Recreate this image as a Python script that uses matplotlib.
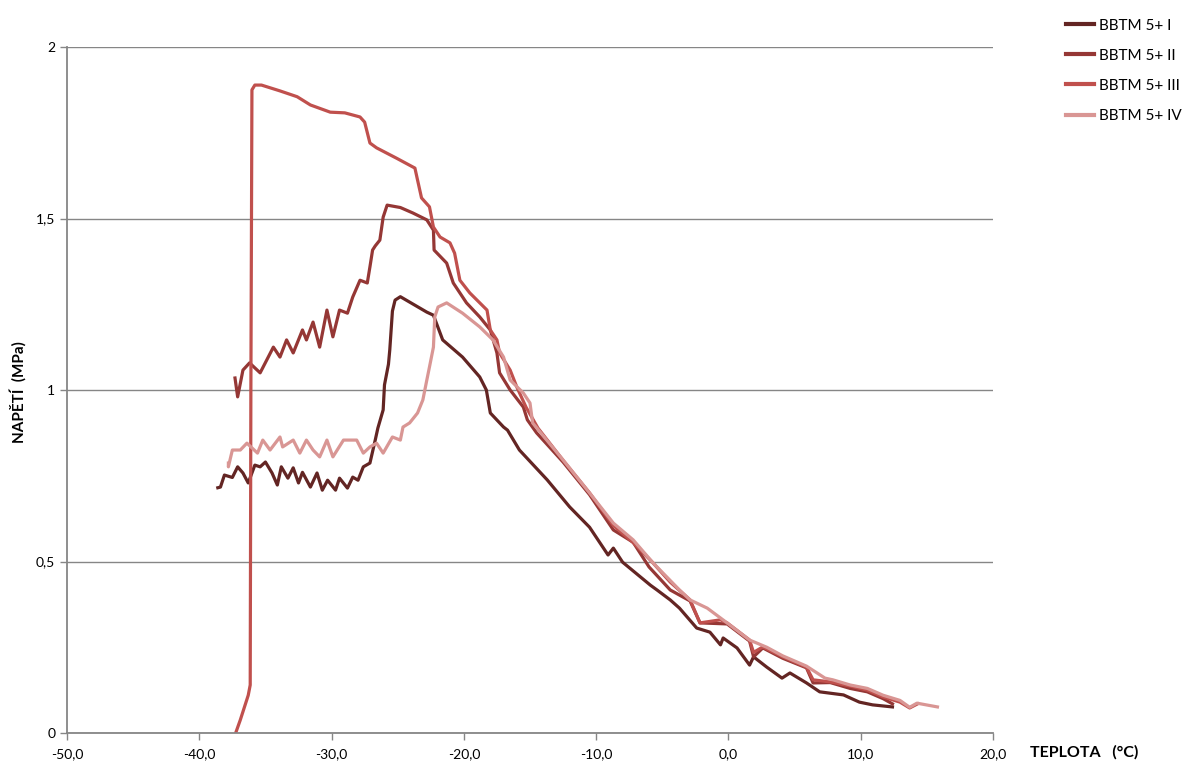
import matplotlib
matplotlib.use("Agg")
import matplotlib.pyplot as plt
from matplotlib.ticker import FixedLocator, FuncFormatter

plt.rcParams['font.family'] = ['Lato', 'DejaVu Sans']

# (temperature °C, stress MPa) readings per series
series_I = [(-38.6, 0.715), (-38.4, 0.717), (-38.1, 0.752), (-37.5, 0.745), (-37.1, 0.776),
            (-36.7, 0.758), (-36.3, 0.729), (-35.8, 0.781), (-35.4, 0.776), (-35.0, 0.790),
            (-34.5, 0.758), (-34.1, 0.723), (-33.8, 0.776), (-33.3, 0.743), (-32.9, 0.773),
            (-32.5, 0.729), (-32.2, 0.760), (-31.6, 0.717), (-31.1, 0.758), (-30.7, 0.708),
            (-30.3, 0.737), (-29.7, 0.708), (-29.4, 0.743), (-28.8, 0.714), (-28.4, 0.746),
            (-28.0, 0.737), (-27.6, 0.776), (-27.1, 0.787), (-26.7, 0.854), (-26.5, 0.889),
            (-26.1, 0.942), (-26.0, 1.015), (-25.7, 1.075), (-25.6, 1.117), (-25.4, 1.230),
            (-25.2, 1.262), (-24.8, 1.272), (-22.8, 1.227), (-22.3, 1.218), (-21.6, 1.146),
            (-20.1, 1.096), (-18.8, 1.038), (-18.3, 1.000), (-18.0, 0.933), (-17.0, 0.892),
            (-16.7, 0.883), (-15.8, 0.825), (-13.7, 0.738), (-12.0, 0.659), (-10.5, 0.600),
            (-9.1, 0.519), (-8.7, 0.539), (-8.0, 0.498), (-5.9, 0.431), (-5.4, 0.417),
            (-4.4, 0.388), (-3.7, 0.364), (-2.4, 0.306), (-1.4, 0.294), (-0.6, 0.257),
            (-0.4, 0.277), (0.65, 0.248), (1.6, 0.198), (1.9, 0.222), (2.9, 0.192),
            (4.05, 0.160), (4.65, 0.175), (5.9, 0.146), (6.9, 0.120), (8.7, 0.111),
            (9.9, 0.090), (10.9, 0.082), (12.4, 0.076)]

series_II = [(-37.3, 1.035), (-37.1, 0.980), (-36.7, 1.058), (-36.2, 1.079), (-35.4, 1.050),
             (-34.4, 1.125), (-33.9, 1.096), (-33.4, 1.146), (-32.9, 1.108), (-32.2, 1.175),
             (-31.9, 1.146), (-31.4, 1.198), (-30.9, 1.125), (-30.35, 1.233), (-29.9, 1.155),
             (-29.4, 1.233), (-28.8, 1.224), (-28.4, 1.271), (-27.85, 1.320), (-27.3, 1.312),
             (-27.1, 1.359), (-26.9, 1.408), (-26.7, 1.420), (-26.35, 1.437), (-26.1, 1.504),
             (-25.8, 1.539), (-24.8, 1.532), (-23.85, 1.516), (-22.8, 1.496), (-22.3, 1.466),
             (-22.25, 1.408), (-21.3, 1.370), (-20.8, 1.312), (-19.8, 1.254), (-18.8, 1.213),
             (-18.0, 1.175), (-17.5, 1.108), (-17.3, 1.050), (-16.5, 1.000), (-15.5, 0.950),
             (-15.2, 0.913), (-14.5, 0.875), (-12.5, 0.790), (-10.5, 0.695), (-8.7, 0.592),
             (-7.2, 0.556), (-6.0, 0.484), (-4.4, 0.417), (-2.9, 0.385), (-2.15, 0.321),
             (-0.1, 0.318), (1.6, 0.268), (1.9, 0.222), (2.6, 0.248), (4.1, 0.218),
             (5.9, 0.190), (6.4, 0.146), (7.7, 0.147), (9.2, 0.130), (10.5, 0.120),
             (11.7, 0.100), (12.4, 0.085)]

series_III = [(-37.25, 0.0), (-36.9, 0.038), (-36.55, 0.080), (-36.3, 0.110), (-36.15, 0.140),
              (-36.1, 1.000), (-36.02, 1.875), (-35.8, 1.889), (-35.3, 1.889), (-33.9, 1.872),
              (-32.6, 1.855), (-31.6, 1.831), (-30.1, 1.810), (-29.0, 1.808), (-27.85, 1.796),
              (-27.5, 1.781), (-27.1, 1.720), (-26.6, 1.706), (-25.1, 1.676), (-23.7, 1.647),
              (-23.5, 1.612), (-23.2, 1.560), (-22.6, 1.534), (-22.3, 1.475), (-21.8, 1.446),
              (-21.05, 1.429), (-20.7, 1.399), (-20.3, 1.320), (-19.55, 1.283), (-18.25, 1.233),
              (-18.0, 1.175), (-17.5, 1.146), (-17.3, 1.108), (-16.5, 1.058), (-16.0, 1.009),
              (-15.3, 0.950), (-14.4, 0.889), (-12.5, 0.795), (-10.5, 0.700), (-8.7, 0.605),
              (-7.2, 0.555), (-5.8, 0.500), (-4.4, 0.440), (-2.9, 0.388), (-2.15, 0.321),
              (-0.6, 0.330), (-0.1, 0.321), (1.6, 0.271), (1.9, 0.235), (2.6, 0.251),
              (4.1, 0.222), (5.9, 0.192), (6.4, 0.155), (7.7, 0.149), (9.2, 0.137),
              (10.5, 0.125), (11.7, 0.105), (12.97, 0.090), (13.7, 0.073), (14.3, 0.085)]

series_IV = [(-37.8, 0.787), (-37.8, 0.776), (-37.5, 0.825), (-36.9, 0.825), (-36.4, 0.845),
             (-35.6, 0.816), (-35.2, 0.854), (-34.65, 0.825), (-33.9, 0.863), (-33.7, 0.834),
             (-32.9, 0.854), (-32.4, 0.816), (-31.9, 0.854), (-31.4, 0.825), (-30.9, 0.805),
             (-30.35, 0.854), (-29.9, 0.805), (-29.1, 0.854), (-28.6, 0.854), (-28.1, 0.854),
             (-27.6, 0.816), (-27.1, 0.834), (-26.6, 0.845), (-26.1, 0.816), (-25.4, 0.863),
             (-24.8, 0.854), (-24.6, 0.892), (-24.1, 0.904), (-23.5, 0.933), (-23.1, 0.971),
             (-22.8, 1.029), (-22.6, 1.067), (-22.3, 1.125), (-22.2, 1.213), (-21.95, 1.242),
             (-21.3, 1.254), (-20.1, 1.224), (-18.8, 1.184), (-17.8, 1.146), (-17.0, 1.096),
             (-16.5, 1.029), (-15.5, 0.991), (-15.0, 0.962), (-14.8, 0.904), (-12.5, 0.796),
             (-10.5, 0.700), (-8.7, 0.612), (-7.2, 0.563), (-5.7, 0.496), (-3.7, 0.417),
             (-2.9, 0.388), (-1.6, 0.364), (-0.1, 0.321), (1.6, 0.271), (2.9, 0.250),
             (4.1, 0.225), (5.9, 0.195), (7.3, 0.160), (7.9, 0.155), (9.2, 0.140),
             (10.5, 0.130), (11.7, 0.110), (12.97, 0.095), (13.7, 0.075), (14.25, 0.087),
             (15.8, 0.076)]

labels = ["BBTM 5+ I", "BBTM 5+ II", "BBTM 5+ III", "BBTM 5+ IV"]
colors = ["#632523", "#953735", "#C0504D", "#D99694"]
x_ticks = [-50, -40, -30, -20, -10, 0, 10, 20]
y_ticks = [0, 0.5, 1, 1.5, 2]

fig = plt.figure(figsize=(11.92, 7.62), dpi=100)
ax = fig.add_axes([67/1192, 29/762, 926/1192, 686/762])

for data, lab, col in zip([series_I, series_II, series_III, series_IV], labels, colors):
    xs = [p[0] for p in data]
    ys = [p[1] for p in data]
    ax.plot(xs, ys, color=col, lw=2.3, label=lab, solid_joinstyle='round')

ax.set_xlim(-50, 20)
ax.set_ylim(0, 2)
ax.xaxis.set_major_locator(FixedLocator(x_ticks))
ax.yaxis.set_major_locator(FixedLocator(y_ticks))
ax.xaxis.set_major_formatter(FuncFormatter(lambda v, p: f"{v:.1f}".replace('.', ',')))
ax.yaxis.set_major_formatter(FuncFormatter(lambda v, p: (f"{v:g}").replace('.', ',')))

grey = "#868686"
for s in ['top', 'right']:
    ax.spines[s].set_visible(False)
for s in ['left', 'bottom']:
    ax.spines[s].set_color(grey)
    ax.spines[s].set_linewidth(1.3)
ax.grid(axis='y', color=grey, lw=1.0)
ax.set_axisbelow(True)
ax.tick_params(axis='both', colors=grey, labelcolor='black', labelsize=10, length=5, width=1)
ax.tick_params(axis='x', pad=6)

fig.text(18/1192, 1 - 392/762, "NAPĚTÍ  (MPa)", rotation=90, fontsize=11,
         fontweight='bold', ha='center', va='center')
fig.text(1030/1192, 1 - 752/762, "TEPLOTA   (°C)", fontsize=11.5, fontweight='bold',
         ha='left', va='center')

leg = fig.legend(loc='upper left', bbox_to_anchor=(1052/1192, 1 - 5/762), frameon=False,
                 fontsize=11, handlelength=1.85, handletextpad=0.35, labelspacing=1.05)
for line in leg.get_lines():
    line.set_linewidth(3)

fig.savefig("out.png", dpi=100)
